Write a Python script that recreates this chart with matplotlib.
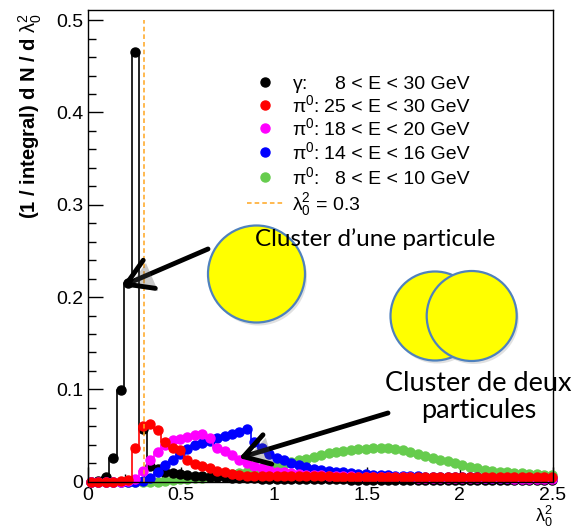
import matplotlib
matplotlib.use('Agg')
import matplotlib.pyplot as plt
from matplotlib.patches import Circle
from matplotlib.ticker import MultipleLocator
import matplotlib.patheffects as pe

plt.rcParams['font.family'] = ['Liberation Sans', 'DejaVu Sans']
plt.rcParams['mathtext.fontset'] = 'custom'
plt.rcParams['mathtext.rm'] = 'Liberation Sans'
plt.rcParams['mathtext.it'] = 'Liberation Sans:italic'
plt.rcParams['mathtext.bf'] = 'Liberation Sans:bold'

# bin centres of lambda_0^2 (bins of 0.04)
lam = [0.015, 0.055, 0.095, 0.135, 0.175, 0.215, 0.255, 0.295, 0.335, 0.375,
       0.415, 0.455, 0.495, 0.535, 0.575, 0.615, 0.655, 0.695, 0.735, 0.775,
       0.815, 0.855, 0.895, 0.935, 0.975, 1.015, 1.055, 1.095, 1.135, 1.175,
       1.215, 1.255, 1.295, 1.335, 1.375, 1.415, 1.455, 1.495, 1.535, 1.575,
       1.615, 1.655, 1.695, 1.735, 1.775, 1.815, 1.855, 1.895, 1.935, 1.975,
       2.015, 2.055, 2.095, 2.135, 2.175, 2.215, 2.255, 2.295, 2.335, 2.375,
       2.415, 2.455, 2.495]

gamma_8_30 = [0.000, 0.001, 0.005, 0.026, 0.099, 0.215, 0.465, 0.057, 0.017, 0.014,
              0.010, 0.009, 0.008, 0.007, 0.006, 0.006, 0.005, 0.005, 0.005, 0.004,
              0.004, 0.004, 0.004, 0.003, 0.003, 0.003, 0.003, 0.003, 0.003, 0.003,
              0.0025, 0.0025, 0.0025, 0.0025, 0.0025, 0.002, 0.002, 0.002, 0.002, 0.002,
              0.002, 0.002, 0.002, 0.002, 0.002, 0.002, 0.002, 0.002, 0.002, 0.002,
              0.002, 0.002, 0.002, 0.002, 0.002, 0.002, 0.002, 0.002, 0.002, 0.002,
              0.002, 0.002, 0.002]

pi0_25_30 = [0.000, 0.000, 0.000, 0.000, 0.001, 0.002, 0.036, 0.060, 0.062, 0.056,
             0.043, 0.037, 0.034, 0.023, 0.019, 0.017, 0.0145, 0.012, 0.010, 0.008,
             0.007, 0.0065, 0.0065, 0.006, 0.006, 0.006, 0.006, 0.006, 0.006, 0.0058,
             0.0058, 0.0057, 0.0057, 0.0056, 0.0056, 0.0056, 0.0055, 0.0055, 0.0055, 0.0055,
             0.0055, 0.0054, 0.0054, 0.0054, 0.0054, 0.0053, 0.0053, 0.0053, 0.0053, 0.0052,
             0.0052, 0.0052, 0.0052, 0.0051, 0.0051, 0.0051, 0.0051, 0.005, 0.005, 0.005,
             0.005, 0.005, 0.005]

pi0_18_20 = [0.000, 0.000, 0.000, 0.000, 0.000, 0.001, 0.003, 0.012, 0.024, 0.032,
             0.040, 0.045, 0.046, 0.048, 0.051, 0.052, 0.047, 0.037, 0.033, 0.029,
             0.024, 0.020, 0.017, 0.015, 0.013, 0.011, 0.010, 0.009, 0.008, 0.0075,
             0.007, 0.0068, 0.0065, 0.0062, 0.006, 0.0058, 0.0056, 0.0054, 0.0052, 0.005,
             0.0049, 0.0048, 0.0047, 0.0046, 0.0045, 0.0044, 0.0043, 0.0042, 0.0041, 0.004,
             0.004, 0.0039, 0.0038, 0.0037, 0.0036, 0.0035, 0.0035, 0.0034, 0.0033, 0.0033,
             0.0032, 0.0031, 0.003]

pi0_14_16 = [0.000, 0.000, 0.000, 0.000, 0.000, 0.000, 0.000, 0.001, 0.004, 0.010,
             0.018, 0.024, 0.030, 0.035, 0.040, 0.042, 0.044, 0.047, 0.050, 0.052,
             0.054, 0.057, 0.043, 0.036, 0.030, 0.026, 0.023, 0.020, 0.018, 0.016,
             0.014, 0.013, 0.012, 0.011, 0.010, 0.009, 0.0085, 0.008, 0.0075, 0.007,
             0.0068, 0.0065, 0.0062, 0.006, 0.0058, 0.0056, 0.0054, 0.0052, 0.005, 0.0049,
             0.0048, 0.0047, 0.0046, 0.0045, 0.0044, 0.0043, 0.0042, 0.0042, 0.0041, 0.0041,
             0.004, 0.004, 0.004]

pi0_8_10 = [0.000, 0.000, 0.000, 0.000, 0.000, 0.000, 0.000, 0.000, 0.000, 0.000,
            0.001, 0.002, 0.003, 0.003, 0.004, 0.004, 0.005, 0.006, 0.007, 0.008,
            0.009, 0.011, 0.012, 0.014, 0.016, 0.017, 0.019, 0.021, 0.023, 0.025,
            0.027, 0.029, 0.031, 0.032, 0.033, 0.034, 0.035, 0.035, 0.036, 0.036,
            0.036, 0.035, 0.034, 0.032, 0.030, 0.028, 0.026, 0.024, 0.022, 0.020,
            0.018, 0.016, 0.0145, 0.013, 0.012, 0.011, 0.010, 0.0095, 0.009, 0.0085,
            0.008, 0.0075, 0.007]

lam_cut = 0.3

prefixes = [r'$\mathrm{\gamma}$:', r'$\mathrm{\pi^{0}}$:', r'$\mathrm{\pi^{0}}$:',
            r'$\mathrm{\pi^{0}}$:', r'$\mathrm{\pi^{0}}$:']
ranges = ['8 < E < 30 GeV', '25 < E < 30 GeV', '18 < E < 20 GeV',
          '14 < E < 16 GeV', '8 < E < 10 GeV']
colors = ['black', '#ff0000', '#ff00ff', '#0000ff', '#66cc4d']
series = [gamma_8_30, pi0_25_30, pi0_18_20, pi0_14_16, pi0_8_10]

W, H = 576, 529
fig = plt.figure(figsize=(W / 100, H / 100), dpi=100)
ax = fig.add_axes([88 / W, (H - 481.7) / H, (552.5 - 88) / W, (481.7 - 10) / H])

# draw order: green, black, blue, magenta, red
for i in [4, 0, 3, 2, 1]:
    ax.plot(lam, series[i], color=colors[i], lw=1.2, drawstyle='steps-mid', clip_on=False)
    ax.plot(lam, series[i], 'o', color=colors[i], ms=6.5, mec=colors[i], clip_on=False)

ax.plot([lam_cut, lam_cut], [0, 0.5], color='#ffa51f', lw=1.1, ls=(0, (3, 2)))

ax.set_xlim(0, 2.5)
ax.set_ylim(0, 0.511)
ax.xaxis.set_minor_locator(MultipleLocator(0.1))
ax.yaxis.set_minor_locator(MultipleLocator(0.02))
ax.set_xticks([0, 0.5, 1, 1.5, 2, 2.5])
ax.set_xticklabels(['0', '0.5', '1', '1.5', '2', '2.5'])
ax.set_yticks([0, 0.1, 0.2, 0.3, 0.4, 0.5])
ax.set_yticklabels(['0', '0.1', '0.2', '0.3', '0.4', '0.5'])
ax.tick_params(which='major', direction='in', length=10.5, width=1, labelsize=14, pad=3.5)
ax.tick_params(which='minor', direction='in', length=5.5, width=1)
for s in ax.spines.values():
    s.set_linewidth(1)

fig.text(30 / W, 1 - 13 / H, r'(1 / integral) d N / d $\mathrm{\lambda_{0}^{2}}$',
         rotation=90, ha='center', va='top', fontsize=14.5, fontweight='bold')
fig.text(553 / W, 1 - 516 / H, r'$\mathrm{\lambda_{0}^{2}}$', ha='right', va='center',
         fontsize=13)

# overlay in image pixel coordinates
ov = fig.add_axes([0, 0, 1, 1])
ov.set_xlim(0, W)
ov.set_ylim(H, 0)
ov.axis('off')

# legend
rows = [81.7, 105, 128.3, 151.7, 176.7]
for y, p, r, c in zip(rows, prefixes, ranges, colors):
    ov.plot([265], [y], 'o', color=c, ms=6.5)
    ov.text(291.7, y + 7, p, fontsize=14, ha='left', va='baseline')
    ov.text(470, y + 7, r, fontsize=14, ha='right', va='baseline')
ov.plot([247, 285], [203.3, 203.3], color='#ffa51f', lw=1.1, ls=(0, (3, 2)))
ov.text(291.7, 203.3 + 7, r'$\mathrm{\lambda_{0}^{2}}$ = 0.3', fontsize=14,
        ha='left', va='baseline')

# yellow clusters
shadow = dict(fc='#888888', ec='none', alpha=0.25)
edge = dict(fc='#ffff00', ec='#4f81bd', lw=1.6)
ov.add_patch(Circle((258.5, 277), 48.5, **shadow))
ov.add_patch(Circle((256.5, 274), 48.5, **edge))
ov.add_patch(Circle((437, 319), 44.5, **shadow))
ov.add_patch(Circle((435, 316), 44.5, **edge))
ov.add_patch(Circle((473.7, 319), 45, **shadow))
ov.add_patch(Circle((471.7, 316), 45, **edge))

lato = ['Lato', 'DejaVu Sans']
ov.text(255, 246, 'Cluster d\u2019une particule', ha='left', va='baseline',
        family=lato, fontsize=17.5)
ov.text(478, 391, 'Cluster de deux', ha='center', va='baseline', family=lato, fontsize=19.5)
ov.text(479, 418, 'particules', ha='center', va='baseline', family=lato, fontsize=19.5)

arrow = dict(arrowstyle='->, head_length=0.9, head_width=0.55', lw=3.5, color='black',
             mutation_scale=20, shrinkA=0, shrinkB=0,
             path_effects=[pe.SimplePatchShadow(offset=(2, -2), alpha=0.3), pe.Normal()])
ov.annotate('', xy=(122, 286), xytext=(208, 249), arrowprops=arrow)
ov.annotate('', xy=(239, 458), xytext=(388, 413), arrowprops=arrow)

fig.savefig('out.png', dpi=100)
